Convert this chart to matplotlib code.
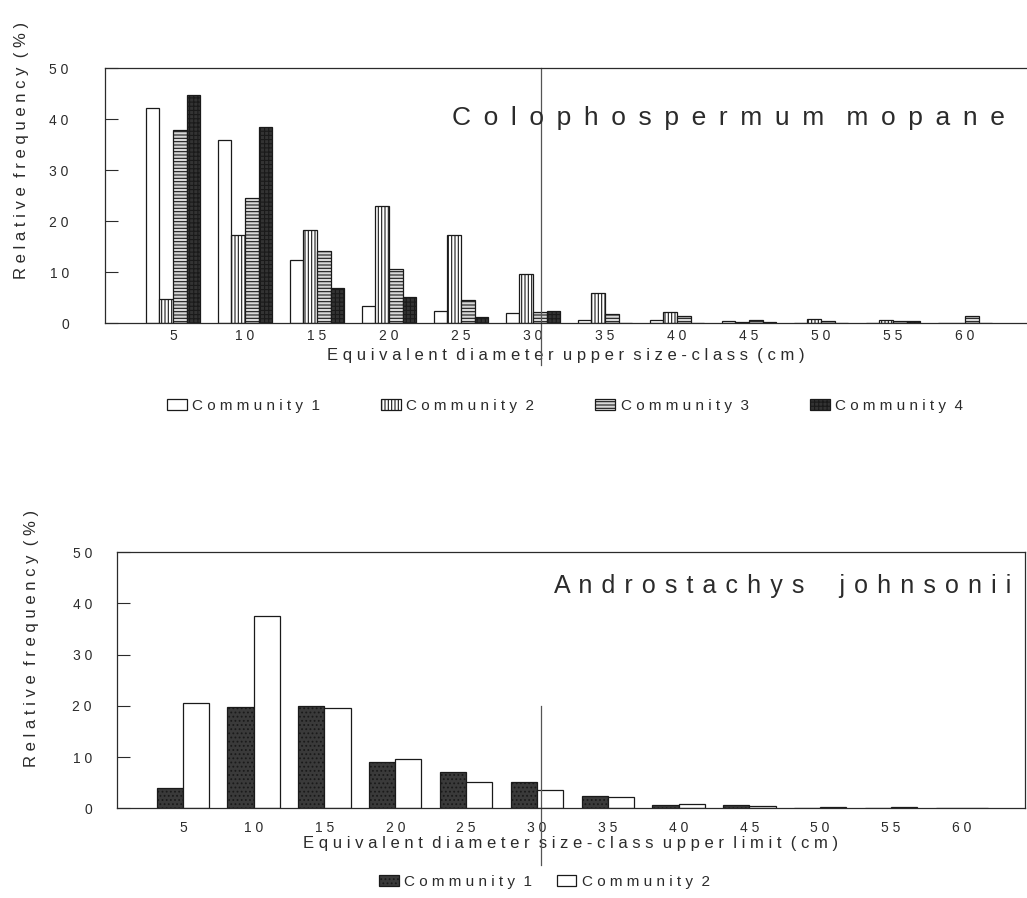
import numpy as np
import matplotlib.pyplot as plt
from matplotlib.patches import Patch

plt.rcParams['font.family'] = ['Liberation Sans', 'DejaVu Sans']
plt.rcParams['hatch.linewidth'] = 0.8

# size classes (cm, upper limit)
classes = ['5', '10', '15', '20', '25', '30', '35', '40', '45', '50', '55', '60']

# Colophospermum mopane, relative frequency (%)
mop_c1 = [42.3, 35.9, 12.5, 3.3, 2.4, 2.1, 0.6, 0.6, 0.5, 0.0, 0.0, 0.0]
mop_c2 = [4.7, 17.4, 18.2, 22.9, 17.4, 9.6, 6.0, 2.2, 0.3, 0.9, 0.7, 0.0]
mop_c3 = [37.8, 24.5, 14.2, 10.7, 4.5, 2.3, 1.8, 1.5, 0.6, 0.4, 0.5, 1.4]
mop_c4 = [44.7, 38.5, 7.0, 5.1, 1.2, 2.5, 0.0, 0.0, 0.3, 0.0, 0.4, 0.0]

# Androstachys johnsonii, relative frequency (%)
and_c1 = [4.0, 19.8, 20.0, 9.0, 7.0, 5.2, 2.4, 0.7, 0.6, 0.0, 0.0, 0.0]
and_c2 = [20.6, 37.6, 19.6, 9.7, 5.2, 3.5, 2.2, 0.9, 0.5, 0.3, 0.3, 0.1]

yticks = [0, 10, 20, 30, 40, 50]

INK = '#2b2b2b'


def spaced(s, gap=' ', wgap='  '):
    # the scanned figure uses wide letter spacing everywhere
    return wgap.join(gap.join(w) for w in s.split(' '))


def setup_axes(ax, xlim, ypad, xpad, right_spine=True):
    ax.set_xlim(*xlim)
    ax.set_ylim(0, 50)
    ax.set_yticks(yticks)
    ax.set_yticklabels([spaced(str(v)) for v in yticks], fontsize=10, color=INK)
    ax.set_xticks(np.arange(len(classes)))
    ax.set_xticklabels([spaced(c) for c in classes], fontsize=10, color=INK)
    ax.tick_params(axis='y', direction='in', length=9, width=0.8, color=INK, pad=ypad)
    ax.tick_params(axis='x', length=0, pad=xpad)
    for sp in ax.spines.values():
        sp.set_color(INK)
        sp.set_linewidth(0.9)
    ax.spines['right'].set_visible(right_spine)


fig = plt.figure(figsize=(10.27, 8.98), dpi=100)
x = np.arange(len(classes))

# ---- top panel: Colophospermum mopane ----
ax1 = fig.add_axes([0.1022, 0.640, 0.8978, 0.284])
w = 0.19
styles_top = [
    dict(facecolor='white', hatch=None),
    dict(facecolor='white', hatch='|||||'),
    dict(facecolor='#d8d8d8', hatch='-----'),
    dict(facecolor='#333333', hatch='++++'),
]
for i, (vals, st) in enumerate(zip([mop_c1, mop_c2, mop_c3, mop_c4], styles_top)):
    ax1.bar(x + (i - 1.5) * w, vals, w, edgecolor='#1a1a1a', linewidth=0.9, **st)
setup_axes(ax1, (-0.944, 11.86), ypad=26, xpad=4, right_spine=False)
ax1.set_xlabel(spaced('Equivalent diameter upper size-class (cm)'), fontsize=12,
               color=INK, labelpad=4)
ax1.text(0.976, 0.804, spaced('Colophospermum mopane', gap=' \u2009', wgap='   '),
         transform=ax1.transAxes, ha='right', va='center', fontsize=19, color=INK)
ax1.axvline(5.11, ymin=-0.165, ymax=1.0, clip_on=False, color='#555555', linewidth=0.9)
fig.text(22 / 1027, 1 - 150 / 898, spaced('Relative frequency (%)'), rotation=90,
         ha='center', va='center', fontsize=12, color=INK)

handles_top = [Patch(edgecolor='#1a1a1a', linewidth=0.9, **st) for st in styles_top]
fig.legend(handles_top, [spaced('Community ' + str(i)) for i in range(1, 5)],
           loc='center', bbox_to_anchor=(0.55, 0.548), ncol=4, frameon=False,
           fontsize=11, handlelength=1.3, handleheight=0.7, columnspacing=4.0,
           handletextpad=0.35, labelcolor=INK)

# ---- bottom panel: Androstachys johnsonii ----
ax2 = fig.add_axes([0.1139, 0.100, 0.884, 0.285])
w2 = 0.37
styles_bot = [
    dict(facecolor='#3a3a3a', hatch='....'),
    dict(facecolor='white', hatch=None),
]
for i, (vals, st) in enumerate(zip([and_c1, and_c2], styles_bot)):
    ax2.bar(x + (i - 0.5) * w2, vals, w2, edgecolor='#1a1a1a', linewidth=0.9, **st)
setup_axes(ax2, (-0.93, 11.89), ypad=18, xpad=9)
ax2.set_xlabel(spaced('Equivalent diameter size-class upper limit (cm)'), fontsize=12,
               color=INK, labelpad=1)
ax2.text(0.985, 0.87, spaced('Androstachys johnsonii', gap=' \u200a', wgap='     '),
         transform=ax2.transAxes, ha='right', va='center', fontsize=18, color=INK)
ax2.axvline(5.06, ymin=-0.22, ymax=0.40, clip_on=False, color='#555555', linewidth=0.9)
fig.text(32 / 1027, 1 - 638 / 898, spaced('Relative frequency (%)'), rotation=90,
         ha='center', va='center', fontsize=12, color=INK)

handles_bot = [Patch(edgecolor='#1a1a1a', linewidth=0.9, **st) for st in styles_bot]
fig.legend(handles_bot, [spaced('Community ' + str(i)) for i in range(1, 3)],
           loc='center', bbox_to_anchor=(0.53, 0.018), ncol=2, frameon=False,
           fontsize=11, handlelength=1.3, handleheight=0.7, columnspacing=1.6,
           handletextpad=0.35, labelcolor=INK)

fig.savefig('out.png', dpi=100)
